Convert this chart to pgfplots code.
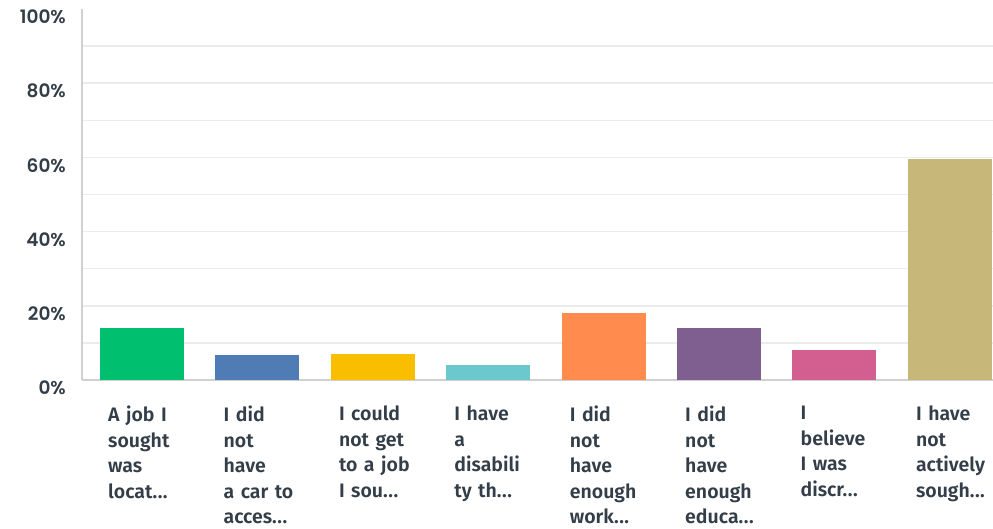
\documentclass[border=0pt]{standalone}
\usepackage{pgfplots}
\pgfplotsset{compat=1.18}
\usepackage{fontspec}
\newfontfamily\xfont{Fira Sans SemiBold}
\newfontfamily\yfont{Poppins SemiBold}
\definecolor{txt}{HTML}{333E48}
\definecolor{gridc}{HTML}{EBEBEB}
\definecolor{axc}{HTML}{D0D0D0}
\definecolor{c1}{HTML}{00BF6F}
\definecolor{c2}{HTML}{507CB6}
\definecolor{c3}{HTML}{F9BE00}
\definecolor{c4}{HTML}{6BC8CD}
\definecolor{c5}{HTML}{FF8B4F}
\definecolor{c6}{HTML}{7F5F90}
\definecolor{c7}{HTML}{D25F90}
\definecolor{c8}{HTML}{C7B879}
\newcommand{\el}{.\kern0.5pt.\kern0.5pt.}
\begin{document}
\begin{tikzpicture}[x=1pt,y=1pt]
\useasboundingbox (0,0) rectangle (993,528);
\begin{axis}[
  at={(82pt,148pt)}, anchor=south west,
  scale only axis, width=911pt, height=371pt,
  xmin=-0.52, xmax=7.374, ymin=0, ymax=100,
  axis x line*=bottom, axis y line*=left,
  x axis line style={draw=axc, line width=2pt, -},
  y axis line style={draw=axc, line width=1.2pt, -},
  ytick={0,20,40,60,80,100}, minor ytick={10,20,30,40,50,60,70,80,90},
  yminorgrids=true, ymajorgrids=false,
  minor grid style={draw=gridc, line width=1.5pt},
  major tick length=0pt, minor tick length=0pt,
  /pgf/number format/assume math mode=true,
  yticklabel={\pgfmathprintnumber{\tick}\%},
  yticklabel style={font=\yfont\fontsize{18.5}{18.5}\selectfont, text=txt, inner sep=0pt, anchor=east, xshift=-16pt, yshift=-8pt},
  xtick={0,1,2,3,4,5,6,7},
  xticklabels={{A job I\\sought\\was\\locat\el},{I did\\not\\have\\a car to\\acces\el},{I could\\not get\\to a job\\I sou\el},{I have\\a\\disabili\\ty th\el},{I did\\not\\have\\enough\\work\el},{I did\\not\\have\\enough\\educa\el},{I\\believe\\I was\\discr\el},{I have\\not\\actively\\sough\el}},
  xticklabel style={font=\xfont\fontsize{19.5}{25.5}\selectfont, text=txt, inner sep=0pt, anchor=north west, align=left, text width=100pt, xshift=-34pt, yshift=-26pt},
  clip=false,
]
\addplot[ybar, bar width=84pt, bar shift=0pt, fill=c1, draw=none] coordinates {(0,14.0)};
\addplot[ybar, bar width=84pt, bar shift=0pt, fill=c2, draw=none] coordinates {(1,6.7)};
\addplot[ybar, bar width=84pt, bar shift=0pt, fill=c3, draw=none] coordinates {(2,7.0)};
\addplot[ybar, bar width=84pt, bar shift=0pt, fill=c4, draw=none] coordinates {(3,4.0)};
\addplot[ybar, bar width=84pt, bar shift=0pt, fill=c5, draw=none] coordinates {(4,18.1)};
\addplot[ybar, bar width=84pt, bar shift=0pt, fill=c6, draw=none] coordinates {(5,14.0)};
\addplot[ybar, bar width=84pt, bar shift=0pt, fill=c7, draw=none] coordinates {(6,8.1)};
\addplot[ybar, bar width=84pt, bar shift=0pt, fill=c8, draw=none] coordinates {(7,59.5)};
\end{axis}
\end{tikzpicture}
\end{document}
